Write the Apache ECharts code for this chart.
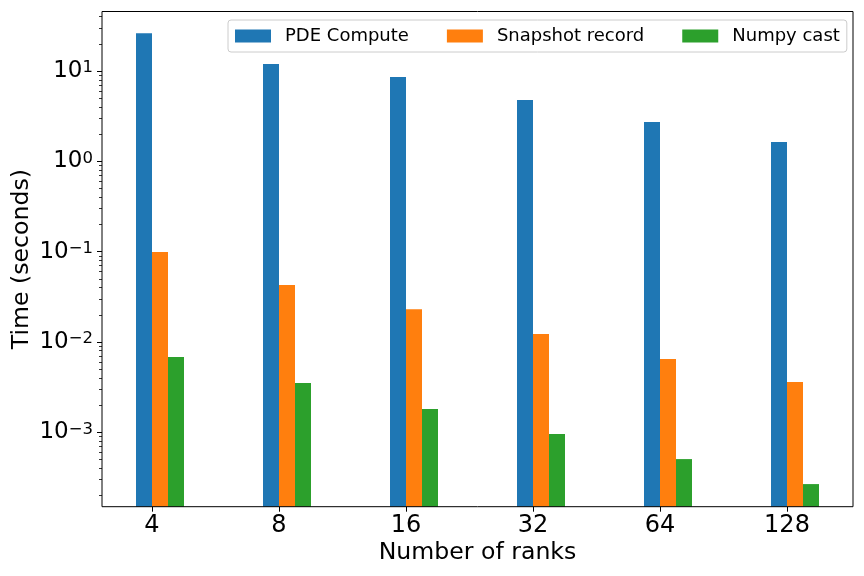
<!DOCTYPE html>
<html>
<head>
<meta charset="utf-8">
<script src="https://cdn.jsdelivr.net/npm/echarts@6/dist/echarts.min.js"></script>
<style>
html,body{margin:0;padding:0;background:#fff;}
#chart{width:864px;height:576px;}
</style>
</head>
<body>
<div id="chart"></div>
<script>
// ---- data ----
const categories = ['4', '8', '16', '32', '64', '128'];
const seriesNames = ['PDE Compute', 'Snapshot record', 'Numpy cast'];
const pdeCompute = [26.2, 11.96, 8.58, 4.77, 2.72, 1.64];
const snapshotRecord = [0.0991, 0.0427, 0.0231, 0.01224, 0.00647, 0.0036];
const numpyCast = [0.00681, 0.00351, 0.00181, 0.000955, 0.000505, 0.000267];
const majorTicks = [1e-3, 1e-2, 1e-1, 1, 10];
const minorTicks = [
  2e-4, 3e-4, 4e-4, 5e-4, 6e-4, 7e-4, 8e-4, 9e-4,
  2e-3, 3e-3, 4e-3, 5e-3, 6e-3, 7e-3, 8e-3, 9e-3,
  2e-2, 3e-2, 4e-2, 5e-2, 6e-2, 7e-2, 8e-2, 9e-2,
  0.2, 0.3, 0.4, 0.5, 0.6, 0.7, 0.8, 0.9,
  2, 3, 4, 5, 6, 7, 8, 9, 20, 30, 40
];
const yMin = 1.5e-4, yMax = 45.6;

const FONT = 'DejaVu Sans';
const colors = ['#1f77b4', '#ff7f0e', '#2ca02c'];

function supLabel(v) {
  const n = Math.round(Math.log10(v));
  if (Math.abs(Math.log10(v) - n) > 1e-6) return '';
  const e = n < 0 ? '\u2212' + (-n) : String(n);
  return '{b|10}{s|' + e + '}';
}

const chart = echarts.init(document.getElementById('chart'), null, {renderer: 'canvas'});
const option = {
  backgroundColor: '#fff',
  animation: false,
  color: colors,
  textStyle: {fontFamily: FONT},
  grid: [
    {left: 102, right: 11, top: 11.5, bottom: 69.3, containLabel: false, outerBoundsMode: 'none',
     show: true, borderColor: '#000', borderWidth: 1, backgroundColor: 'transparent', z: 5},
    {left: 88.5, right: 13.5, top: 11.5, bottom: 69.3, containLabel: false, outerBoundsMode: 'none'}
  ],
  legend: {
    data: seriesNames,
    left: 228, top: 20,
    padding: [6, 7, 6, 7],
    itemWidth: 36, itemHeight: 13, itemGap: 38,
    borderColor: '#cccccc', borderWidth: 1, borderRadius: 3,
    backgroundColor: 'rgba(255,255,255,0.8)',
    icon: 'rect',
    textStyle: {fontFamily: FONT, fontSize: 18, color: '#000', padding: [0, 0, 0, 9], lineHeight: 20}
  },
  xAxis: [
    {
      gridIndex: 0, type: 'value', min: 0, max: 1,
      axisLine: {show: false}, axisTick: {show: false}, axisLabel: {show: false}, splitLine: {show: false},
      name: 'Number of ranks', nameLocation: 'middle', nameGap: 34,
      nameTextStyle: {fontFamily: FONT, fontSize: 23.6, color: '#000'}
    },
    {
      gridIndex: 1, type: 'category', data: categories,
      axisLine: {show: false},
      axisTick: {show: true, alignWithLabel: true, length: 5, lineStyle: {color: '#000', width: 1}},
      axisLabel: {fontFamily: FONT, fontSize: 24, color: '#000', margin: 7},
      splitLine: {show: false}
    }
  ],
  yAxis: [
    {
      gridIndex: 0, type: 'log', logBase: 10, min: yMin, max: yMax, position: 'left',
      axisLine: {show: false},
      axisTick: {show: true, length: 5, customValues: majorTicks, lineStyle: {color: '#000', width: 1}},
      axisLabel: {
        customValues: majorTicks, margin: 9, formatter: supLabel, color: '#000',
        rich: {
          b: {fontFamily: FONT, fontSize: 23, color: '#000', lineHeight: 23, verticalAlign: 'bottom'},
          s: {fontFamily: FONT, fontSize: 16.5, color: '#000', lineHeight: 16.5, verticalAlign: 'top'}
        },
        lineHeight: 29
      },
      splitLine: {show: false},
      name: 'Time (seconds)', nameLocation: 'middle', nameGap: 68, nameMoveOverlap: false,
      nameTextStyle: {fontFamily: FONT, fontSize: 23.6, color: '#000'}
    },
    {
      gridIndex: 0, type: 'log', logBase: 10, min: yMin, max: yMax, position: 'left',
      axisLine: {show: false},
      axisTick: {show: true, length: 3, customValues: minorTicks, lineStyle: {color: '#000', width: 0.8}},
      axisLabel: {show: false},
      splitLine: {show: false}
    },
    {
      gridIndex: 1, type: 'log', logBase: 10, min: yMin, max: yMax, startValue: yMin, show: false,
      splitLine: {show: false}
    }
  ],
  series: [
    {name: '_spacer', type: 'bar', xAxisIndex: 1, yAxisIndex: 2, barWidth: 16, barGap: '0%', data: categories.map(() => null), silent: true},
    {name: seriesNames[0], type: 'bar', xAxisIndex: 1, yAxisIndex: 2, barWidth: 16, barGap: '0%', data: pdeCompute, itemStyle: {color: colors[0]}},
    {name: seriesNames[1], type: 'bar', xAxisIndex: 1, yAxisIndex: 2, barWidth: 16, barGap: '0%', data: snapshotRecord, itemStyle: {color: colors[1]}},
    {name: seriesNames[2], type: 'bar', xAxisIndex: 1, yAxisIndex: 2, barWidth: 16, barGap: '0%', data: numpyCast, itemStyle: {color: colors[2]}}
  ]
};
chart.setOption(option);
</script>
</body>
</html>
